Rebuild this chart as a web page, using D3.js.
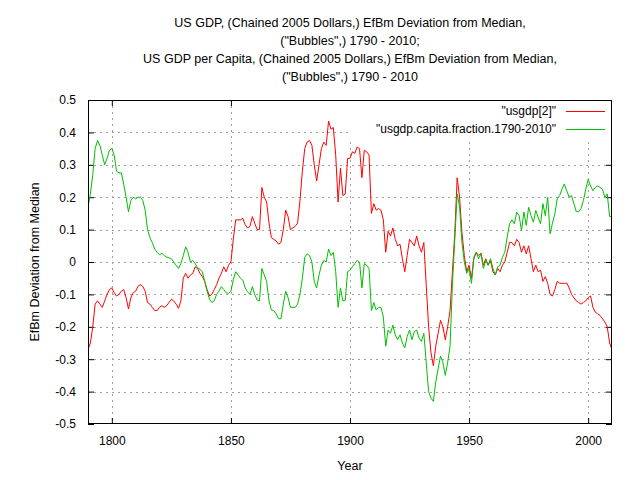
<!DOCTYPE html>
<html><head><meta charset="utf-8">
<script src="https://cdn.jsdelivr.net/npm/d3@7"></script>
<style>body{margin:0;background:#fff}svg{display:block}text{font-family:"Liberation Sans",Arial,sans-serif;fill:#000}</style>
</head><body><svg id="c" width="640" height="480"></svg>
<script>
const startYear = 1790;
const titleLines = ["US GDP, (Chained 2005 Dollars,) EfBm Deviation from Median,","(\"Bubbles\",) 1790 - 2010;","US GDP per Capita, (Chained 2005 Dollars,) EfBm Deviation from Median,","(\"Bubbles\",) 1790 - 2010"];
const seriesNames = ["\"usgdp[2]\"", "\"usgdp.capita.fraction.1790-2010\""];
const xTicks = [1800, 1850, 1900, 1950, 2000];
const yTicks = [0.5,0.4,0.3,0.2,0.1,0,-0.1,-0.2,-0.3,-0.4,-0.5];
const usgdp = [
-0.27,-0.25,-0.20,-0.13,-0.12,-0.13,-0.14,-0.12,-0.10,-0.085,
-0.08,-0.095,-0.105,-0.10,-0.09,-0.085,-0.11,-0.145,-0.11,-0.095,
-0.09,-0.075,-0.07,-0.075,-0.09,-0.125,-0.13,-0.14,-0.15,-0.15,
-0.14,-0.135,-0.14,-0.135,-0.125,-0.115,-0.12,-0.13,-0.143,-0.12,
-0.05,-0.035,-0.05,-0.04,-0.035,-0.015,-0.02,-0.035,-0.045,-0.06,
-0.085,-0.105,-0.10,-0.085,-0.07,-0.05,-0.035,-0.015,-0.03,-0.01,
0.0,0.07,0.13,0.13,0.13,0.135,0.115,0.105,0.11,0.14,
0.12,0.10,0.10,0.23,0.20,0.185,0.12,0.075,0.07,0.065,
0.055,0.06,0.10,0.16,0.14,0.10,0.105,0.11,0.12,0.19,
0.28,0.35,0.37,0.375,0.36,0.30,0.25,0.30,0.35,0.37,
0.36,0.435,0.41,0.415,0.33,0.185,0.29,0.205,0.21,0.32,
0.32,0.34,0.335,0.355,0.35,0.26,0.345,0.34,0.33,0.15,
0.18,0.16,0.165,0.16,0.13,0.03,0.095,0.08,0.105,0.07,
0.05,0.055,0.01,-0.03,0.02,0.07,0.06,0.05,0.08,0.05,
0.03,0.06,-0.07,-0.20,-0.28,-0.32,-0.26,-0.22,-0.18,-0.20,
-0.24,-0.20,-0.15,-0.03,0.09,0.26,0.20,0.09,0.02,-0.03,
-0.01,-0.05,0.01,0.03,0.02,0.027,-0.01,0.01,-0.01,0.005,
-0.03,-0.04,-0.02,-0.03,-0.01,0.0,0.03,0.06,0.06,0.05,
0.07,0.06,0.03,0.05,0.025,0.05,0.01,-0.03,-0.01,-0.03,
-0.025,-0.06,-0.045,-0.066,-0.10,-0.105,-0.085,-0.06,-0.065,-0.066,
-0.066,-0.065,-0.08,-0.10,-0.11,-0.12,-0.125,-0.13,-0.125,-0.12,
-0.11,-0.105,-0.14,-0.155,-0.16,-0.165,-0.175,-0.185,-0.20,-0.25,
-0.27];
const capita = [
0.17,0.21,0.27,0.35,0.375,0.36,0.33,0.30,0.32,0.345,
0.35,0.33,0.28,0.275,0.275,0.24,0.20,0.155,0.19,0.20,
0.195,0.20,0.20,0.19,0.16,0.10,0.075,0.06,0.04,0.03,
0.022,0.027,0.02,0.015,0.013,0.01,0.0,-0.01,-0.02,-0.005,
0.02,0.047,0.03,0.0,0.005,-0.005,-0.018,-0.022,-0.03,-0.06,
-0.09,-0.115,-0.125,-0.12,-0.10,-0.09,-0.076,-0.085,-0.095,-0.097,
-0.09,-0.055,-0.03,-0.04,-0.05,-0.056,-0.08,-0.092,-0.10,-0.076,
-0.10,-0.117,-0.12,-0.02,-0.04,-0.06,-0.12,-0.148,-0.15,-0.16,
-0.175,-0.175,-0.13,-0.09,-0.11,-0.14,-0.14,-0.14,-0.13,-0.10,
-0.05,0.015,0.025,0.02,0.0,-0.06,-0.08,-0.04,-0.01,0.005,
0.0,0.04,0.02,0.03,-0.03,-0.14,-0.08,-0.12,-0.118,-0.03,
-0.025,-0.015,-0.005,0.005,0.0,-0.08,-0.005,-0.01,-0.02,-0.15,
-0.125,-0.148,-0.14,-0.14,-0.17,-0.26,-0.21,-0.22,-0.195,-0.225,
-0.24,-0.225,-0.25,-0.265,-0.23,-0.21,-0.24,-0.215,-0.21,-0.235,
-0.245,-0.22,-0.31,-0.40,-0.42,-0.43,-0.37,-0.33,-0.29,-0.31,
-0.35,-0.31,-0.26,-0.07,0.07,0.21,0.17,0.06,0.0,-0.035,
-0.02,-0.066,0.015,0.03,0.01,0.025,-0.02,0.005,-0.01,0.01,
-0.02,-0.04,-0.015,-0.01,0.015,0.03,0.077,0.118,0.13,0.118,
0.154,0.143,0.097,0.154,0.113,0.169,0.143,0.123,0.159,0.138,
0.118,0.18,0.143,0.20,0.087,0.12,0.148,0.195,0.205,0.225,
0.241,0.22,0.20,0.205,0.18,0.155,0.155,0.165,0.19,0.225,
0.255,0.235,0.22,0.23,0.235,0.23,0.225,0.20,0.21,0.14,
0.14];

const svg = d3.select("#c");
const L = 88, R = 612, T = 100, B = 424;
const x = d3.scaleLinear().domain([1790, 2010]).range([L, R]);
const y = d3.scaleLinear().domain([-0.5, 0.5]).range([B, T]);

// title
svg.append("g").selectAll("text").data(titleLines).join("text")
  .attr("x", (L + R) / 2).attr("y", (d, i) => 27 + i * 18)
  .attr("text-anchor", "middle").style("font-size", "12.5px").text(d => d);

// grid
const grid = svg.append("g").attr("stroke", "#a0a0a0").attr("stroke-width", 1).attr("stroke-dasharray", "2,4");
grid.selectAll("line.gx").data(xTicks).join("line")
  .attr("x1", d => Math.round(x(d)) + 0.5).attr("x2", d => Math.round(x(d)) + 0.5).attr("y1", T).attr("y2", B);
grid.selectAll("line.gy").data(yTicks.filter(d => d > -0.5 && d < 0.5)).join("line")
  .attr("y1", d => Math.round(y(d)) + 0.5).attr("y2", d => Math.round(y(d)) + 0.5).attr("x1", L).attr("x2", R);

// axes
const fmt = d => d === 0 ? "0" : d3.format(".1f")(d).replace("\u2212", "-");
const axL = svg.append("g").attr("transform", `translate(${L},0)`)
  .call(d3.axisLeft(y).tickValues(yTicks).tickSizeInner(-6).tickSizeOuter(0).tickPadding(12).tickFormat(fmt));
const axR = svg.append("g").attr("transform", `translate(${R},0)`)
  .call(d3.axisRight(y).tickValues(yTicks).tickSizeInner(-6).tickSizeOuter(0).tickFormat(""));
const axB = svg.append("g").attr("transform", `translate(0,${B})`)
  .call(d3.axisBottom(x).tickValues(xTicks).tickSizeInner(-6).tickSizeOuter(0).tickPadding(12).tickFormat(d3.format("d")));
const axT = svg.append("g").attr("transform", `translate(0,${T})`)
  .call(d3.axisTop(x).tickValues(xTicks).tickSizeInner(-6).tickSizeOuter(0).tickFormat(""));
[axL, axR, axB, axT].forEach(a => {
  a.selectAll(".domain").remove();
  a.selectAll("line").attr("stroke", "#000");
  a.selectAll("text").style("font-size", "12px").style("font-family", "Liberation Sans, Arial, sans-serif").attr("fill", "#000");
});

// key (opaque)
svg.append("rect").attr("x", 350).attr("y", T + 1).attr("width", R - 351).attr("height", 37).attr("fill", "#fff");

// lines
svg.append("clipPath").attr("id", "pc").append("rect").attr("x", L).attr("y", T).attr("width", R - L).attr("height", B - T);
const line = d3.line().x((d, i) => x(startYear + i)).y(d => y(d));
const colors = ["#ff0000", "#00c000"];
[usgdp, capita].forEach((s, k) => {
  svg.append("path").datum(s).attr("d", line).attr("fill", "none")
    .attr("stroke", colors[k]).attr("stroke-width", 1).attr("clip-path", "url(#pc)");
});

// border
svg.append("rect").attr("x", L + 0.5).attr("y", T + 0.5).attr("width", R - L - 1).attr("height", B - T - 1)
  .attr("fill", "none").attr("stroke", "#000");

// legend
const key = svg.append("g");
seriesNames.forEach((n, i) => {
  const ky = 111 + i * 18;
  key.append("text").attr("x", 556).attr("y", ky + 4).attr("text-anchor", "end").style("font-size", "12px").text(n);
  key.append("line").attr("x1", 566).attr("x2", 605).attr("y1", ky + 0.5).attr("y2", ky + 0.5)
    .attr("stroke", colors[i]).attr("stroke-width", 1);
});

// axis labels
svg.append("text").attr("x", (L + R) / 2).attr("y", 470).attr("text-anchor", "middle").style("font-size", "12.5px").text("Year");
svg.append("text").attr("transform", `translate(39,${(T + B) / 2}) rotate(-90)`).attr("text-anchor", "middle")
  .style("font-size", "12.5px").text("EfBm Deviation from Median");
</script></body></html>
